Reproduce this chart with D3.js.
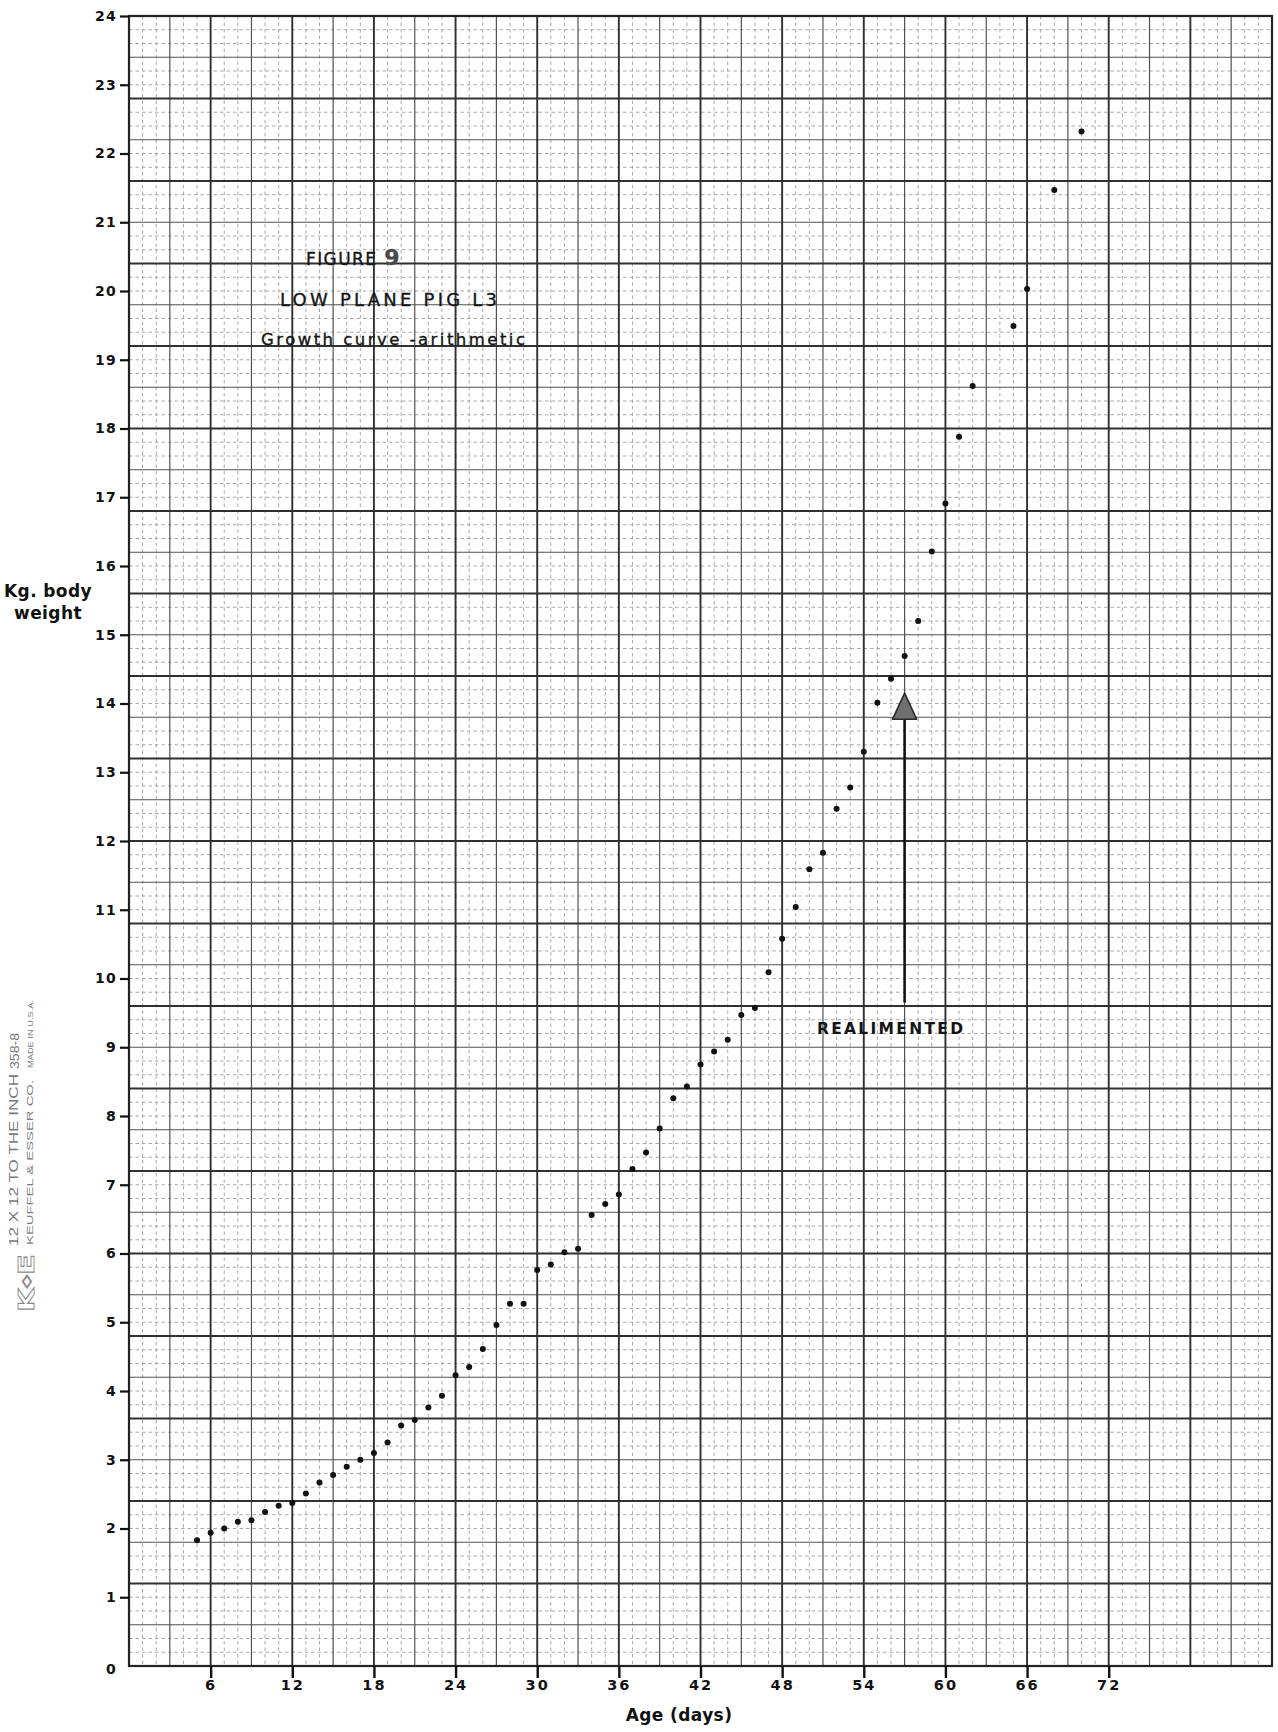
<!DOCTYPE html>
<html>
<head>
<meta charset="utf-8">
<script src="https://cdn.jsdelivr.net/npm/d3@7"></script>
<style>
  html, body { margin: 0; padding: 0; background: #ffffff; }
  svg { display: block; }
</style>
</head>
<body>
<svg id="chart" width="1278" height="1732"></svg>
<script>
// Growth record of low-plane pig L3: age in days and body weight in kg
const ageDays = [
  5, 6, 7, 8, 9, 10, 11, 12, 13, 14, 15, 16, 17, 18, 19, 20,
  21, 22, 23, 24, 25, 26, 27, 28, 29, 30, 31, 32, 33, 34, 35, 36,
  37, 38, 39, 40, 41, 42, 43, 44, 45, 46, 47, 48, 49, 50, 51, 52,
  53, 54, 55, 56, 57, 58, 59, 60, 61, 62, 65, 66, 68, 70
];
const bodyWeightKg = [
  1.83, 1.94, 2.00, 2.10, 2.12, 2.24, 2.33, 2.37, 2.51, 2.67, 2.78, 2.90, 3.00, 3.10, 3.25, 3.50,
  3.58, 3.76, 3.93, 4.23, 4.35, 4.61, 4.96, 5.27, 5.27, 5.76, 5.84, 6.02, 6.07, 6.56, 6.72, 6.86,
  7.23, 7.47, 7.82, 8.26, 8.43, 8.75, 8.94, 9.11, 9.47, 9.57, 10.09, 10.58, 11.04, 11.59, 11.83, 12.47,
  12.78, 13.30, 14.01, 14.36, 14.69, 15.20, 16.21, 16.91, 17.88, 18.62, 19.49, 20.03, 21.47, 22.32
];

// Axis ticks
const xTickValues = [6, 12, 18, 24, 30, 36, 42, 48, 54, 60, 66, 72];
const yTickValues = d3.range(0, 25);

// Text
const titleLines = ["FIGURE ", "9", "LOW PLANE PIG L3", "Growth curve -arithmetic"];
const xAxisTitle = "Age (days)";
const yAxisTitle = ["Kg. body", "weight"];
const realimentLabel = "REALIMENTED";
const realimentDay = 57;
const realimentArrowKg = [9.65, 14.15];
const paperImprint = ["12 X 12 TO THE INCH", "KEUFFEL & ESSER CO.", "358-8", "MADE IN U.S.A."];

const svg = d3.select("#chart");
svg.append("rect").attr("width", 1278).attr("height", 1732).attr("fill", "#ffffff");

const x = d3.scaleLinear().domain([0, 84]).range([129, 1272]);
const y = d3.scaleLinear().domain([0, 24]).range([1666, 16]);

// ---- graph-paper grid: 1 day / 0.2 kg fine, 3 days / 0.6 kg medium, 6 days / 1.2 kg heavy
const grid = svg.append("g").attr("class", "grid");
const dayLines = d3.range(0, 85);
const kgSteps = d3.range(0, 121); // multiples of 0.2 kg

function lineStyle(sel, level) {
  if (level === 2) sel.attr("stroke", "#303030").attr("stroke-width", 1.9);
  else if (level === 1) sel.attr("stroke", "#525252").attr("stroke-width", 1.2);
  else sel.attr("stroke", "#9a9a9a").attr("stroke-width", 0.85).attr("stroke-dasharray", "3.5 3");
}
const vLevel = d => (d % 6 === 0 ? 2 : d % 3 === 0 ? 1 : 0);
const hLevel = k => (k % 6 === 0 ? 2 : k % 3 === 0 ? 1 : 0);

[0, 1, 2].forEach(level => {
  grid.selectAll(null)
    .data(dayLines.filter(d => vLevel(d) === level))
    .join("line")
    .attr("x1", d => x(d)).attr("x2", d => x(d))
    .attr("y1", y(24)).attr("y2", y(0))
    .call(lineStyle, level);
  grid.selectAll(null)
    .data(kgSteps.filter(k => hLevel(k) === level))
    .join("line")
    .attr("x1", x(0)).attr("x2", x(84))
    .attr("y1", k => y(k * 0.2)).attr("y2", k => y(k * 0.2))
    .call(lineStyle, level);
});

svg.append("rect")
  .attr("x", x(0)).attr("y", y(24))
  .attr("width", x(84) - x(0)).attr("height", y(0) - y(24))
  .attr("fill", "none").attr("stroke", "#222").attr("stroke-width", 2.2);

const labelFont = "'DejaVu Sans', 'Liberation Sans', sans-serif";

// ---- axes
const yAxis = svg.append("g")
  .attr("transform", `translate(${x(0)},0)`)
  .call(d3.axisLeft(y).tickValues(yTickValues).tickSize(9).tickPadding(3).tickFormat(d3.format("d")));
yAxis.select(".domain").remove();
yAxis.selectAll(".tick line").attr("stroke", "#111").attr("stroke-width", 2.2)
  .filter(d => d === 0).remove();
yAxis.selectAll(".tick text")
  .attr("fill", "#111")
  .style("font-family", labelFont)
  .style("font-size", "14px").style("font-weight", "bold")
  .style("letter-spacing", "1.2px");
yAxis.selectAll(".tick").filter(d => d === 0).select("text").attr("dy", "0.55em");

const xAxis = svg.append("g")
  .attr("transform", `translate(0,${y(0)})`)
  .call(d3.axisBottom(x).tickValues(xTickValues).tickSize(12).tickPadding(2).tickFormat(d3.format("d")));
xAxis.select(".domain").remove();
xAxis.selectAll(".tick line").attr("stroke", "#111").attr("stroke-width", 2.4);
xAxis.selectAll(".tick text")
  .attr("fill", "#111")
  .style("font-family", labelFont)
  .style("font-size", "14.5px").style("font-weight", "bold")
  .style("letter-spacing", "2px");

svg.append("text")
  .attr("x", 679).attr("y", 1721)
  .attr("text-anchor", "middle")
  .attr("fill", "#111")
  .style("font-family", labelFont).style("font-size", "17px").style("font-weight", "600")
  .style("letter-spacing", "0.4px")
  .text(xAxisTitle);

svg.append("g").selectAll("text")
  .data(yAxisTitle)
  .join("text")
  .attr("x", 48).attr("y", (d, i) => 597 + i * 22)
  .attr("text-anchor", "middle")
  .attr("fill", "#111")
  .style("font-family", labelFont).style("font-size", "17px").style("font-weight", "600")
  .style("letter-spacing", "0.4px")
  .text(d => d);

// ---- title block (lettering-guide style, slightly heavier stroke)
const title = svg.append("g")
  .attr("fill", "#151515").attr("stroke", "#151515").attr("stroke-width", 0.35)
  .style("font-family", labelFont);
const fig = title.append("text").attr("x", 306).attr("y", 265)
  .style("font-size", "17px").style("letter-spacing", "1.4px");
fig.append("tspan").text(titleLines[0]);
fig.append("tspan").attr("fill", "#4a4a4a").attr("stroke", "#4a4a4a")
  .style("font-size", "22px").style("font-weight", "bold").text(titleLines[1]);
title.append("text").attr("x", 280).attr("y", 306)
  .attr("textLength", 217).attr("lengthAdjust", "spacing")
  .style("font-size", "18px").text(titleLines[2]);
title.append("text").attr("x", 261).attr("y", 345)
  .attr("textLength", 264).attr("lengthAdjust", "spacing")
  .style("font-size", "16.5px").text(titleLines[3]);

// ---- data points
svg.append("g").selectAll("circle")
  .data(ageDays.map((d, i) => [d, bodyWeightKg[i]]))
  .join("circle")
  .attr("cx", d => x(d[0]))
  .attr("cy", d => y(d[1]))
  .attr("r", 3)
  .attr("fill", "#111");

// ---- realimentation arrow
const ax = x(realimentDay);
const tipY = y(realimentArrowKg[1]);
svg.append("line")
  .attr("x1", ax).attr("x2", ax)
  .attr("y1", y(realimentArrowKg[0])).attr("y2", tipY + 24)
  .attr("stroke", "#151515").attr("stroke-width", 2.6);
svg.append("path")
  .attr("d", `M${ax},${tipY} L${ax + 12},${tipY + 26} L${ax - 12},${tipY + 26} Z`)
  .attr("fill", "#6f6f6f").attr("stroke", "#2a2a2a").attr("stroke-width", 1.6)
  .attr("stroke-linejoin", "round");
svg.append("text")
  .attr("x", 817).attr("y", 1034)
  .attr("textLength", 146).attr("lengthAdjust", "spacing")
  .attr("fill", "#151515")
  .style("font-family", labelFont).style("font-size", "15.5px").style("font-weight", "600")
  .text(realimentLabel);

// ---- paper maker's imprint in the left margin
const imprint = svg.append("g").attr("fill", "#7a7a7a").style("font-family", "'Liberation Sans', Arial, sans-serif");
function vText(str, bx, by, size, len) {
  imprint.append("text")
    .attr("transform", `translate(${bx},${by}) rotate(-90)`)
    .attr("textLength", len).attr("lengthAdjust", "spacingAndGlyphs")
    .style("font-size", size + "px")
    .text(str);
}
vText(paperImprint[0], 18, 1246, 12, 172);
vText(paperImprint[1], 33, 1245, 8.5, 165);
vText(paperImprint[2], 19, 1069, 12, 36);
vText(paperImprint[3], 33, 1068, 6.5, 68);

const logo = imprint.append("text")
  .attr("transform", "translate(34,1312) rotate(-90)")
  .attr("textLength", 58).attr("lengthAdjust", "spacingAndGlyphs")
  .attr("fill", "#ffffff").attr("stroke", "#8a8a8a").attr("stroke-width", 0.9)
  .style("font-family", "'DejaVu Sans', sans-serif")
  .style("font-size", "21px").style("font-weight", "bold");
logo.append("tspan").text("K");
logo.append("tspan").style("font-size", "12px").attr("dy", -4).text("\u25C7");
logo.append("tspan").attr("dy", 4).text("E");
</script>
</body>
</html>
